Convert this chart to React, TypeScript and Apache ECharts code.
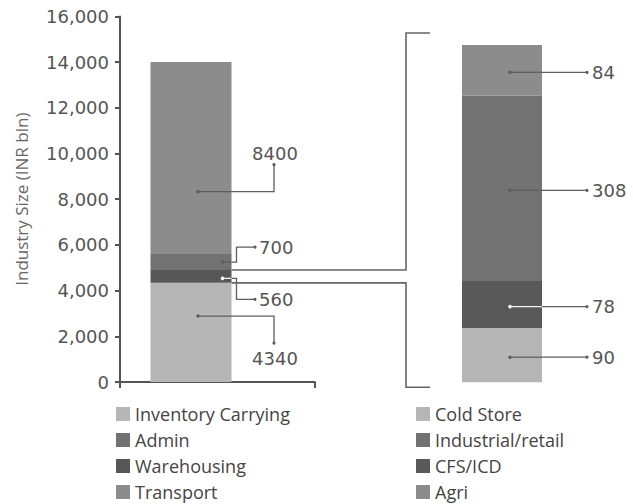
import React, { useEffect, useRef } from "react";
import * as echarts from "echarts";

// ---- data ----
const leftNames = ["Inventory Carrying", "Warehousing", "Admin", "Transport"]; // stack order, bottom -> top
const leftValues = [4340, 560, 700, 8400];
const leftColors = ["#b6b6b6", "#575757", "#727272", "#8c8c8c"];
const leftLegendOrder = ["Inventory Carrying", "Admin", "Warehousing", "Transport"];

const rightNames = ["Cold Store", "CFS/ICD", "Industrial/retail", "Agri"]; // stack order, bottom -> top
const rightValues = [90, 78, 308, 84];
const rightColors = ["#b6b6b6", "#595959", "#727272", "#8c8c8c"];
const rightLegendOrder = ["Cold Store", "Industrial/retail", "CFS/ICD", "Agri"];

const categories = ["Total", "Warehousing"];
const yMin = 0;
const yMax = 16000;
const yInterval = 2000;
const yAxisTitle = "Industry Size (INR bln)";
const brokenDownSegment = "Warehousing";

// callout anchor position inside each segment (fraction of its height) and style
const leftCallouts = [
  { name: "Inventory Carrying", frac: 0.665, kind: "far", dir: 1 },
  { name: "Warehousing", frac: 0.35, kind: "near", dir: 1 },
  { name: "Admin", frac: 0.5, kind: "near", dir: -1 },
  { name: "Transport", frac: 0.325, kind: "far", dir: -1 },
];

// ---- layout constants ----
const NUM_FONT = "DejaVu Sans";
const TXT_FONT = "Open Sans";
const AXIS_COLOR = "#555";
const LINE_COLOR = "#5e5e5e";
const PLOT_TOP = 16.4;
const PLOT_H = 365.6;

export default function App() {
  const ref = useRef<HTMLDivElement>(null);

  useEffect(() => {
    if (!ref.current) return;
    const chart = echarts.init(ref.current, undefined, { renderer: "svg" });

    const legendCommon = {
      orient: "vertical",
      top: 405,
      height: 110,
      padding: 0,
      itemWidth: 14,
      itemHeight: 14,
      itemGap: 8,
      selectedMode: false,
      textStyle: { fontSize: 18, fontFamily: TXT_FONT, color: "#444" },
    };
    const rTotal = rightValues.reduce((a, b) => a + b, 0);

    chart.setOption({
      animation: false,
      grid: [
        { left: 120, top: PLOT_TOP, width: 195, height: PLOT_H }, // axes frame
        { left: 150.5, top: PLOT_TOP, width: 81, height: PLOT_H }, // left bar
        { left: 462, top: 45, width: 80, height: 337.3 }, // right bar
      ],
      xAxis: [
        {
          gridIndex: 0,
          type: "value",
          min: 0,
          max: 1,
          interval: 1,
          axisLine: { show: true, onZero: false, lineStyle: { color: AXIS_COLOR, width: 2 } },
          axisTick: { show: true, length: 6, lineStyle: { color: AXIS_COLOR, width: 2 } },
          axisLabel: { show: false },
          splitLine: { show: false },
        },
        { gridIndex: 1, type: "category", data: [categories[0]], show: false },
        { gridIndex: 2, type: "category", data: [categories[1]], show: false },
      ],
      yAxis: [
        {
          gridIndex: 0,
          type: "value",
          min: yMin,
          max: yMax,
          interval: yInterval,
          axisLine: { show: true, lineStyle: { color: AXIS_COLOR, width: 2 } },
          axisTick: { show: true, length: 5, lineStyle: { color: AXIS_COLOR, width: 2 } },
          axisLabel: {
            formatter: (v: number) => v.toLocaleString("en-US"),
            fontSize: 18,
            fontFamily: NUM_FONT,
            color: "#555",
            margin: 11,
          },
          splitLine: { show: false },
          name: yAxisTitle,
          nameLocation: "middle",
          nameGap: 90,
          nameTextStyle: { fontSize: 17, fontFamily: TXT_FONT, color: "#666" },
        },
        { gridIndex: 1, type: "value", min: yMin, max: yMax, show: false, splitLine: { show: false } },
        { gridIndex: 2, type: "value", min: 0, max: rTotal, show: false, splitLine: { show: false } },
      ],
      legend: [
        { ...legendCommon, left: 116, data: leftLegendOrder.map((n) => ({ name: n, icon: "rect" })) },
        { ...legendCommon, left: 416, data: rightLegendOrder.map((n) => ({ name: n, icon: "rect" })) },
      ],
      series: [
        ...leftNames.map((n, i) => ({
          type: "bar",
          name: n,
          stack: "L",
          xAxisIndex: 1,
          yAxisIndex: 1,
          barWidth: "100%",
          data: [leftValues[i]],
          itemStyle: { color: leftColors[i] },
        })),
        ...rightNames.map((n, i) => ({
          type: "bar",
          name: n,
          stack: "R",
          xAxisIndex: 2,
          yAxisIndex: 2,
          barWidth: "100%",
          data: [rightValues[i]],
          itemStyle: { color: rightColors[i] },
        })),
      ],
    });

    // ---- annotations computed through the chart's own scales ----
    const px = (gi: number, x: any, y: number) => chart.convertToPixel({ gridIndex: gi }, [x, y]) as number[];
    const g: any[] = [];
    const line = (pts: number[][], color = LINE_COLOR, w = 1.3) =>
      g.push({ type: "polyline", shape: { points: pts }, style: { stroke: color, lineWidth: w, fill: null }, z: 100 });
    const dot = (x: number, y: number, color = LINE_COLOR, r = 2) =>
      g.push({ type: "circle", shape: { cx: x, cy: y, r }, style: { fill: color }, z: 101 });
    const text = (x: number, y: number, s: string, align: string) =>
      g.push({
        type: "text",
        x,
        y,
        style: { text: s, fontSize: 18, fontFamily: NUM_FONT, fill: "#555", align, verticalAlign: "middle" },
        z: 102,
      });

    // left bar
    const lcx = px(1, categories[0], 0)[0];
    const lRight = lcx + 81 / 2;
    const leftBase: number[] = [];
    leftValues.reduce((acc, v, i) => ((leftBase[i] = acc), acc + v), 0);

    leftCallouts.forEach((c) => {
      const i = leftNames.indexOf(c.name);
      const v = leftValues[i];
      const ay = px(1, categories[0], leftBase[i] + v * c.frac)[1];
      const dark = leftColors[i] === "#575757";
      if (c.kind === "far") {
        const x0 = lcx + 7;
        const ex = lcx + 83;
        const ey = ay + c.dir * 27;
        line([[x0, ay], [ex, ay], [ex, ey]]);
        dot(x0, ay, dark ? "#fff" : LINE_COLOR, 1.8);
        dot(ex, ey, LINE_COLOR, 1.6);
        text(ex + 1, ey + (c.dir < 0 ? -11 : 15), String(v), "center");
      } else {
        const x0 = lRight - 9;
        const ex = lRight + 5;
        const ey = ay + (c.dir < 0 ? -15 : 21);
        line([[x0, ay], [lRight, ay]], dark ? "#eee" : LINE_COLOR);
        line([[lRight, ay], [ex, ay], [ex, ey], [lRight + 23.5, ey]]);
        dot(x0, ay, dark ? "#fff" : LINE_COLOR, 1.8);
        dot(lRight + 23.5, ey, LINE_COLOR, 1.6);
        text(lRight + 27.5, ey, String(v), "left");
      }
    });

    // right bar
    const rcx = px(2, categories[1], 0)[0];
    const rLeft = rcx - 40;
    const rRight = rcx + 40;
    let acc = 0;
    rightValues.forEach((v, i) => {
      const ay = px(2, categories[1], acc + v / 2)[1] + 2;
      acc += v;
      const dark = rightColors[i] === "#595959";
      const x0 = rcx + 8;
      const ex = rcx + 85;
      line([[x0, ay], [rRight, ay]], dark ? "#eee" : LINE_COLOR);
      line([[rRight, ay], [ex, ay]]);
      dot(x0, ay, dark ? "#fff" : LINE_COLOR, 1.8);
      dot(ex, ay, LINE_COLOR, 1.6);
      text(rcx + 90, ay, String(v), "left");
    });

    // bracket connecting the broken-down segment to the right bar
    const bi = leftNames.indexOf(brokenDownSegment);
    const segTop = px(1, categories[0], leftBase[bi] + leftValues[bi])[1];
    const segBot = px(1, categories[0], leftBase[bi])[1];
    const rTop = px(2, categories[1], rTotal)[1];
    const rBot = px(2, categories[1], 0)[1];
    const bx = rLeft - 56;
    const bEnd = rLeft - 32;
    line([[lRight, segTop], [bx, segTop], [bx, rTop - 12], [bEnd, rTop - 12]], "#666", 1.6);
    line([[lRight, segBot], [bx, segBot], [bx, rBot + 5], [bEnd, rBot + 5]], "#666", 1.6);

    chart.setOption({ graphic: g });

    return () => chart.dispose();
  }, []);

  return <div ref={ref} style={{ position: "absolute", left: 0, top: 0, width: 633, height: 504 }} />;
}
